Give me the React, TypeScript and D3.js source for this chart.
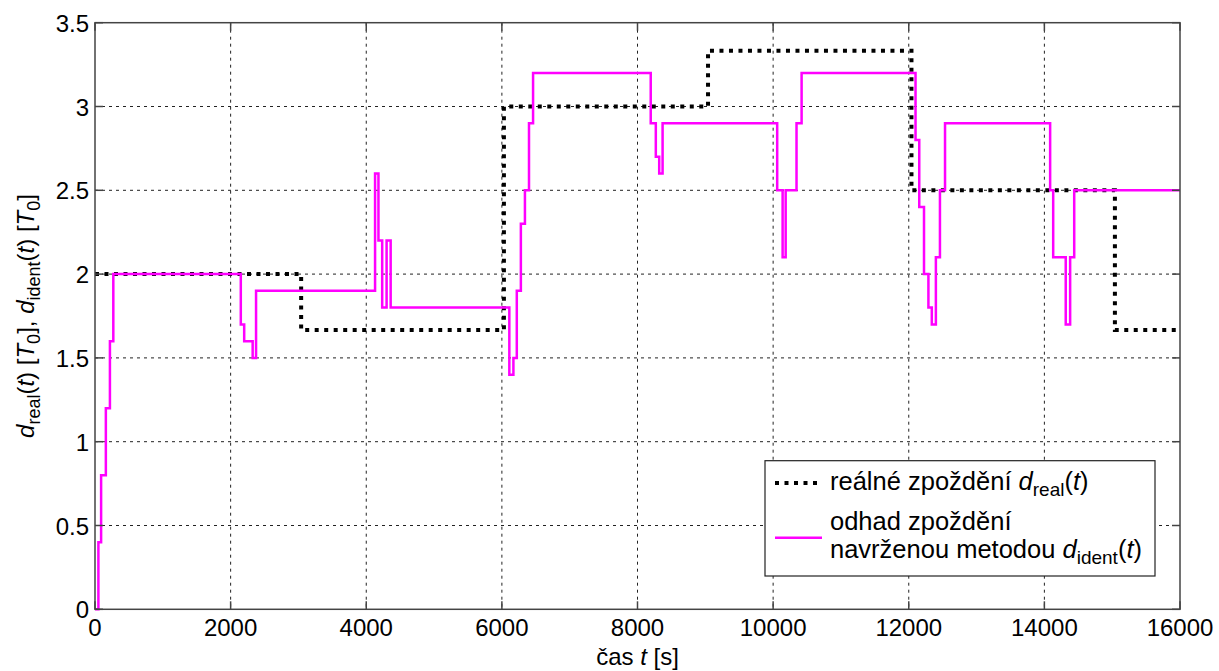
import React from "react";
import * as d3 from "d3";

const xTicks = [0, 2000, 4000, 6000, 8000, 10000, 12000, 14000, 16000];
const yTicks = [0, 0.5, 1, 1.5, 2, 2.5, 3, 3.5];

const realTimes = [0, 3040, 6030, 9040, 12040, 15040, 16000];
const realValues = [2, 1.667, 3, 3.333, 2.5, 1.667, 1.667];

const estTimes = [0, 50, 90, 160, 220, 270, 2150, 2200, 2325, 2375, 4130, 4180, 4235, 4300, 4360, 6110, 6170, 6220, 6280, 6340, 6400, 6460, 8195, 8270, 8320, 8370, 10060, 10140, 10185, 10345, 10420, 12100, 12155, 12225, 12290, 12340, 12400, 12460, 12535, 14085, 14130, 14315, 14380, 14440, 16000];
const estValues = [0, 0.4, 0.8, 1.2, 1.6, 2.0, 1.7, 1.6, 1.5, 1.9, 2.6, 2.2, 1.8, 2.2, 1.8, 1.4, 1.5, 1.9, 2.3, 2.5, 2.9, 3.2, 2.9, 2.7, 2.6, 2.9, 2.5, 2.1, 2.5, 2.9, 3.2, 2.8, 2.4, 2.0, 1.8, 1.7, 2.1, 2.5, 2.9, 2.5, 2.1, 1.7, 2.1, 2.5, 2.5];

const W = 1219, H = 671;
const L = 95, R = 1180, T = 22.7, B = 609.3;
const FONT = "'Liberation Sans', Arial, sans-serif";

export default function App() {
  const x = d3.scaleLinear().domain([0, 16000]).range([L, R]);
  const y = d3.scaleLinear().domain([0, 3.5]).range([B, T]);
  const line = d3.line<[number, number]>().x(d => x(d[0])).y(d => y(d[1])).curve(d3.curveStepAfter);
  const realPts = realTimes.map((t, i) => [t, realValues[i]] as [number, number]);
  const estPts = estTimes.map((t, i) => [t, estValues[i]] as [number, number]);
  const axisColor = "#444";
  const fs = 24;
  const lfs = 25.5;
  return (
    <svg width={W} height={H} style={{ position: "absolute", left: 0, top: 0, background: "#fff" }} fontFamily={FONT}>
      <rect x={0} y={0} width={W} height={H} fill="#fff" />
      {/* grid */}
      {xTicks.slice(1, -1).map(t => (
        <line key={"gx" + t} x1={x(t)} x2={x(t)} y1={T} y2={B} stroke="#222" strokeWidth={1} strokeDasharray="3,4" />
      ))}
      {yTicks.slice(1, -1).map(t => (
        <line key={"gy" + t} x1={L} x2={R} y1={y(t)} y2={y(t)} stroke="#222" strokeWidth={1} strokeDasharray="3,4" />
      ))}
      {/* data */}
      <path d={line(realPts) || ""} fill="none" stroke="#000" strokeWidth={4} strokeDasharray="4,5.5" />
      <path d={line(estPts) || ""} fill="none" stroke="#ff00ff" strokeWidth={2.5} />
      {/* box */}
      <rect x={L} y={T} width={R - L} height={B - T} fill="none" stroke={axisColor} strokeWidth={1.5} />
      {/* ticks */}
      {xTicks.map(t => (
        <g key={"tx" + t}>
          <line x1={x(t)} x2={x(t)} y1={B} y2={B - 8} stroke={axisColor} strokeWidth={1.5} />
          <line x1={x(t)} x2={x(t)} y1={T} y2={T + 8} stroke={axisColor} strokeWidth={1.5} />
          <text x={x(t)} y={636} textAnchor="middle" fontSize={fs} fill="#000">{t}</text>
        </g>
      ))}
      {yTicks.map(t => (
        <g key={"ty" + t}>
          <line x1={L} x2={L + 8} y1={y(t)} y2={y(t)} stroke={axisColor} strokeWidth={1.5} />
          <line x1={R} x2={R - 8} y1={y(t)} y2={y(t)} stroke={axisColor} strokeWidth={1.5} />
          <text x={L - 6} y={y(t) + 9} textAnchor="end" fontSize={fs} fill="#000">{String(t)}</text>
        </g>
      ))}
      {/* x label */}
      <text x={(L + R) / 2} y={665} textAnchor="middle" fontSize={fs} fill="#000">
        čas <tspan fontStyle="italic">t</tspan> [s]
      </text>
      {/* y label */}
      <text transform={`translate(34,${(T + B) / 2}) rotate(-90)`} textAnchor="middle" fontSize={fs} fill="#000">
        <tspan fontStyle="italic">d</tspan>
        <tspan fontSize={18} dy={6}>real</tspan>
        <tspan dy={-6}>(</tspan><tspan fontStyle="italic">t</tspan>) [<tspan fontStyle="italic">T</tspan>
        <tspan fontSize={18} dy={6}>0</tspan>
        <tspan dy={-6}>], </tspan><tspan fontStyle="italic">d</tspan>
        <tspan fontSize={18} dy={6}>ident</tspan>
        <tspan dy={-6}>(</tspan><tspan fontStyle="italic">t</tspan>) [<tspan fontStyle="italic">T</tspan>
        <tspan fontSize={18} dy={6}>0</tspan>
        <tspan dy={-6}>]</tspan>
      </text>
      {/* legend */}
      <rect x={765} y={460.7} width={390} height={115.3} fill="#fff" stroke="#222" strokeWidth={1.2} />
      <line x1={775} x2={818} y1={483} y2={483} stroke="#000" strokeWidth={4} strokeDasharray="4,5.5" />
      <text x={830} y={490} fontSize={lfs} fill="#000">
        reálné zpoždění <tspan fontStyle="italic">d</tspan>
        <tspan fontSize={19} dy={6}>real</tspan>
        <tspan dy={-6}>(</tspan><tspan fontStyle="italic">t</tspan>)
      </text>
      <line x1={775} x2={822} y1={537.7} y2={537.7} stroke="#ff00ff" strokeWidth={2.5} />
      <text x={830} y={530} fontSize={lfs} fill="#000">odhad zpoždění</text>
      <text x={830} y={558} fontSize={lfs} fill="#000">
        navrženou metodou <tspan fontStyle="italic">d</tspan>
        <tspan fontSize={19} dy={6}>ident</tspan>
        <tspan dy={-6}>(</tspan><tspan fontStyle="italic">t</tspan>)
      </text>
    </svg>
  );
}
